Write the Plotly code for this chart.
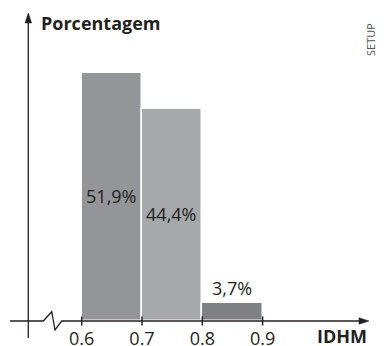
import plotly.graph_objects as go

# ---- data ----
idhm_centers = [0.65, 0.75, 0.85]
idhm_width = [0.1, 0.1, 0.1]
percentages = [51.9, 44.4, 3.7]
labels = ["51,9%", "44,4%", "3,7%"]
tick_vals = [0.6, 0.7, 0.8, 0.9]
tick_text = ["0.6", "0.7", "0.8", "0.9"]
bar_colors = ["#939598", "#a6a8ab", "#7f8083"]

W, H = 386, 346
B = 25                      # bottom margin -> axis line at pixel 321
PLOT_H = H - B
PX_PER_X = 60.3 / 0.1       # pixels per IDHM unit
X0 = 0.6 - 81.7 / PX_PER_X  # data x at left edge
X1 = X0 + W / PX_PER_X
PX_PER_PCT = 4.78
Y1 = PLOT_H / PX_PER_PCT

INK = "#231f20"
FONT = "Open Sans"


def px(x):
    return x / W


def py(y):
    return (PLOT_H - y) / PLOT_H


# bars 1-2 carry their label inside; the small last bar gets it above
inside_text = [t if v > 10 else "" for t, v in zip(labels, percentages)]

fig = go.Figure()
fig.add_trace(go.Bar(
    x=idhm_centers, y=percentages, width=idhm_width,
    marker=dict(color=bar_colors, line=dict(color="white", width=1.5)),
    text=inside_text,
    textposition="inside",
    insidetextanchor="middle",
    textfont=dict(family=FONT, size=18, color=INK),
    constraintext="none",
    cliponaxis=False,
    hoverinfo="skip",
))

shapes = []
# x axis with break
axis_y = PLOT_H
path = (f"M {px(10)},{py(axis_y)} L {px(43.3)},{py(axis_y)} "
        f"L {px(51.7)},{py(311.7)} L {px(55)},{py(330)} "
        f"L {px(61.7)},{py(axis_y)} L {px(362)},{py(axis_y)}")
shapes.append(dict(type="path", xref="paper", yref="paper", path=path,
                   line=dict(color=INK, width=1.3)))
# x arrow head
shapes.append(dict(type="path", xref="paper", yref="paper",
                   path=f"M {px(369)},{py(axis_y)} L {px(359)},{py(axis_y-3.3)} "
                        f"L {px(359)},{py(axis_y+3.3)} Z",
                   fillcolor=INK, line=dict(color=INK, width=0.5)))
# y axis
shapes.append(dict(type="line", xref="paper", yref="paper",
                   x0=px(28.3), x1=px(28.3), y0=py(20), y1=py(338),
                   line=dict(color=INK, width=1.3)))
shapes.append(dict(type="path", xref="paper", yref="paper",
                   path=f"M {px(28.3)},{py(13)} L {px(25)},{py(23)} "
                        f"L {px(31.6)},{py(23)} Z",
                   fillcolor=INK, line=dict(color=INK, width=0.5)))
# tick marks crossing the axis
for tv in tick_vals:
    shapes.append(dict(type="line", xref="x", yref="paper",
                       x0=tv, x1=tv, y0=py(axis_y + 4.5), y1=py(axis_y - 4.5),
                       line=dict(color=INK, width=1.5)))

annotations = [
    dict(text="<b>Porcentagem</b>", xref="paper", yref="paper",
         x=px(38.5), y=py(23.5), xanchor="left", yanchor="middle",
         showarrow=False, font=dict(family=FONT, size=18, color=INK)),
    dict(text="<b>IDHM</b>", xref="paper", yref="paper",
         x=px(341.7), y=py(336), xanchor="center", yanchor="middle",
         showarrow=False, font=dict(family=FONT, size=18, color=INK)),
    dict(text="SETUP", xref="paper", yref="paper", textangle=-90,
         x=px(370), y=py(40), xanchor="center", yanchor="middle",
         showarrow=False, font=dict(family=FONT, size=11, color="#555555")),
]
for xc, v, t in zip(idhm_centers, percentages, labels):
    if v <= 10:
        annotations.append(dict(text=t, x=xc, y=v, xref="x", yref="y",
                                xanchor="center", yanchor="bottom", yshift=1,
                                showarrow=False,
                                font=dict(family=FONT, size=18, color=INK)))

fig.update_layout(
    width=W, height=H,
    margin=dict(l=0, r=0, t=0, b=B, pad=0, autoexpand=False),
    paper_bgcolor="white", plot_bgcolor="white",
    showlegend=False,
    bargap=0,
    shapes=shapes,
    annotations=annotations,
    xaxis=dict(range=[X0, X1], tickvals=tick_vals, ticktext=tick_text,
               automargin=False,
               showgrid=False, zeroline=False, showline=False,
               ticks="outside", ticklen=1, tickcolor="rgba(0,0,0,0)",
               tickfont=dict(family=FONT, size=18, color=INK), fixedrange=True),
    yaxis=dict(range=[0, Y1], visible=False, fixedrange=True, automargin=False),
)

fig.write_html(
    "out.html",
    config={"displayModeBar": False},
    post_script="document.body.style.margin='0';document.body.style.overflow='hidden';",
)
